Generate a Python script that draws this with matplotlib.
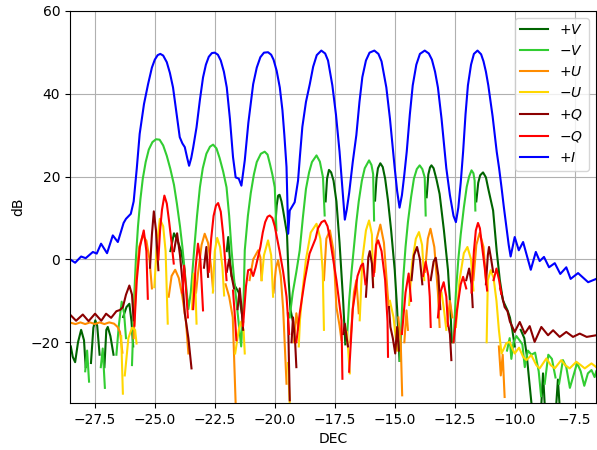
import numpy as np
import matplotlib.pyplot as plt

nan = np.nan

# +I : total intensity of the beam pattern
i_dec = [-28.5, -28.32, -28.07, -27.88, -27.58, -27.42, -27.24, -26.99, -26.75, -26.54, -26.3, -26.2, -26.0,
         -25.88, -25.75, -25.63, -25.45, -25.28, -25.12, -25.0, -24.88, -24.77, -24.65, -24.5, -24.37, -24.24,
         -24.1, -23.96, -23.85, -23.75, -23.65, -23.57, -23.48, -23.4, -23.26, -23.12, -22.99, -22.87, -22.75,
         -22.62, -22.5, -22.37, -22.25, -22.12, -22.0, -21.87, -21.74, -21.63, -21.5, -21.39, -21.25, -21.1,
         -20.9, -20.75, -20.6, -20.45, -20.28, -20.15, -20.05, -19.92, -19.79, -19.68, -19.6, -19.51, -19.44,
         -19.375, -19.17, -19.03, -18.95, -18.85, -18.7, -18.54, -18.4, -18.25, -18.06, -17.9, -17.78, -17.6,
         -17.45, -17.3, -17.18, -17.08, -17.0, -16.9, -16.75, -16.6, -16.47, -16.35, -16.2, -16.05, -15.85,
         -15.68, -15.55, -15.35, -15.2, -15.0, -14.9, -14.8, -14.7, -14.6, -14.5, -14.37, -14.25, -14.1, -13.95,
         -13.75, -13.58, -13.45, -13.32, -13.2, -13.05, -12.85, -12.7, -12.55, -12.45, -12.35, -12.25, -12.15,
         -12.05, -11.95, -11.82, -11.7, -11.55, -11.4, -11.3, -11.2, -11.1, -10.92, -10.75, -10.65, -10.55,
         -10.45, -10.35, -10.25, -10.17, -10.0, -9.83, -9.65, -9.33, -9.12, -8.96, -8.78, -8.57, -8.33, -8.1,
         -7.85, -7.67, -7.36, -6.94, -6.6]
i_db = [-0.1, -0.8, 0.7, 0.3, 1.8, 1.4, 3.8, 1.5, 5.8, 4.2, 8.8, 9.8, 11.0,
        14.0, 22.0, 30.3, 37.5, 42.3, 46.3, 48.2, 49.3, 49.6, 49.2, 47.6, 45.0, 41.5,
        35.5, 29.5, 28.0, 27.1, 24.5, 22.6, 24.5, 27.0, 31.9, 38.5, 43.9, 47.0, 48.9,
        49.8, 49.9, 49.4, 48.0, 45.3, 41.5, 34.0, 24.7, 19.8, 19.5, 17.8, 23.9, 33.0,
        42.3, 46.3, 48.8, 49.9, 50.0, 49.4, 48.2, 45.5, 41.5, 36.0, 30.0, 22.3, 6.2,
        11.8, 13.8, 19.0, 25.0, 32.0, 38.0, 42.3, 46.5, 49.3, 50.4, 49.7, 48.0, 42.0,
        35.0, 26.0, 17.0, 9.6, 12.0, 16.0, 23.5, 30.0, 38.0, 44.0, 48.0, 49.9, 50.4,
        49.6, 47.8, 41.5, 34.0, 22.0, 16.5, 12.5, 15.5, 20.5, 26.0, 35.0, 42.0, 47.0, 49.6,
        50.4, 49.7, 48.2, 45.3, 41.5, 34.0, 22.0, 15.5, 10.5, 9.0, 12.5, 18.5, 26.0,
        35.0, 42.0, 47.0, 49.6, 50.4, 49.5, 47.8, 45.3, 42.0, 34.5, 26.0, 22.0, 17.4,
        12.5, 8.0, 3.5, 0.7, 5.4, 2.2, 4.2, -2.5, 1.8, -0.4, 0.6, -1.9, -0.9, -3.5,
        -1.9, -4.7, -3.3, -5.5, -4.7]

# +V (positive Stokes V), nan where the sign flips
vp_dec = [-28.5, -28.42, -28.32, -28.2, -28.07, -27.95, -27.88, nan,
          -27.66, -27.56, -27.48, -27.4, -27.3, nan,
          -27.1, -27.02, -26.96, -26.85, -26.72, nan,
          -26.32, -26.18, -26.06, -25.97, -25.9, nan,
          -24.35, -24.2, -24.05, -23.9, -23.75, nan,
          -22.0, -21.94, -21.87, -21.8, -21.65, -21.5, -21.4, -21.32, nan,
          -19.98, -19.92, -19.86, -19.8, -19.72, -19.65, -19.49, -19.42, -19.35, -19.24, nan,
          -17.88, -17.82, -17.74, -17.65, -17.55, -17.43, -17.3, -17.15, -17.06, nan,
          -15.82, -15.76, -15.7, -15.6, -15.5, -15.4, -15.28, -15.15, -15.0, -14.9, -14.8, nan,
          -13.67, -13.6, -13.53, -13.47, -13.38, -13.26, -13.13, -12.95, -12.78, -12.68, -12.62, nan,
          -11.6, -11.52, -11.44, -11.32, -11.2, -11.1, -10.9, -10.75, -10.62, -10.49, -10.3, -10.2, -10.1,
          -10.0, nan,
          -9.75, -9.6, -9.5, -9.4, -9.28, nan,
          -8.9, -8.82, -8.74, nan,
          -8.28, -8.2, -8.12]
vp_db = [-21.0, -23.5, -24.8, -20.0, -17.0, -19.5, -26.0, nan,
         -25.0, -16.5, -14.7, -16.0, -23.0, nan,
         -26.0, -17.0, -16.3, -18.5, -23.0, nan,
         -13.9, -11.5, -10.7, -15.0, -21.0, nan,
         2.0, 6.3, 4.5, 2.0, -3.0, nan,
         2.0, 5.4, 0.0, -4.0, -6.5, -8.0, -12.0, -15.0, nan,
         8.0, 13.0, 15.4, 15.6, 14.0, 11.8, 6.2, -5.0, -12.0, -15.0, nan,
         14.0, 19.5, 21.6, 21.0, 19.0, 14.0, 4.0, -10.0, -20.5, nan,
         14.2, 19.5, 22.0, 23.2, 22.3, 19.5, 14.2, 7.0, -2.6, -12.0, -24.5, nan,
         15.0, 20.5, 22.2, 22.7, 22.0, 19.3, 15.8, 7.0, -2.6, -12.0, -20.0, nan,
         14.0, 18.5, 20.3, 21.0, 19.8, 17.0, 11.8, 2.0, -5.0, -9.9, -12.3, -14.0, -17.0,
         -21.0, nan,
         -17.0, -19.0, -23.0, -29.0, -36.0, nan,
         -36.0, -27.5, -36.0, nan,
         -36.0, -29.0, -36.0]

# -V
vm_dec = [-27.9, -27.82, -27.74, nan,
          -27.25, -27.17, -27.08, nan,
          -26.6, -26.5, -26.38, -26.28, -26.2, nan,
          -25.95, -25.85, -25.78, -25.7, -25.6, -25.5, -25.38, -25.25, -25.1, -24.95, -24.8, -24.65, -24.5,
          -24.35, -24.2, -24.08, -23.95, -23.85, -23.75, -23.6, -23.5, -23.42, -23.35, -23.24, -23.12, -23.0,
          -22.85, -22.7, -22.57, -22.43, -22.3, -22.15, -22.01, -21.9, -21.8, -21.7, -21.6, -21.4, -21.3,
          -21.25, -21.12, -21.0, -20.87, -20.75, -20.58, -20.42, -20.3, -20.2, -20.1, -20.0, -19.93, nan,
          -19.38, -19.25, -19.1, -18.96, -18.83, -18.7, -18.57, -18.45, -18.26, -18.12, -17.99, -17.92, nan,
          -17.0, -16.9, -16.8, -16.7, -16.6, -16.5, -16.37, -16.25, -16.07, -15.97, -15.9, -15.86, nan,
          -14.78, -14.65, -14.55, -14.45, -14.32, -14.2, -14.08, -13.96, -13.85, -13.75, -13.71, nan,
          -12.55, -12.45, -12.35, -12.25, -12.12, -12.0, -11.9, -11.8, -11.72, -11.67, -11.64, nan,
          -10.32, -10.21, -10.14, -10.05, -9.93, -9.8, -9.68, -9.58, -9.45, -9.3, -9.15, -9.0, -8.9, nan,
          -8.75, -8.6, -8.45, -8.3, nan,
          -8.15, -7.99, -7.85, -7.7, -7.55, -7.4, -7.25, -7.1, -6.95, -6.8, -6.67, -6.6]
vm_db = [-27.0, -22.0, -29.5, nan,
         -26.0, -21.5, -31.0, nan,
         -23.0, -16.0, -10.2, -13.0, -19.0, nan,
         -25.5, -8.0, 1.0, 8.0, 14.5, 19.5, 23.5, 26.5, 28.3, 29.0, 28.9, 27.5, 25.0,
         21.8, 18.0, 13.5, 8.0, 3.0, -3.0, -12.0, -8.0, -2.0, 3.0, 10.5, 17.4, 22.0,
         25.5, 27.2, 27.7, 26.8, 24.5, 21.2, 17.4, 10.5, 2.2, -4.5, -10.0, -21.0, -10.0,
         2.2, 10.5, 16.0, 20.5, 23.5, 25.5, 26.0, 25.3, 23.0, 20.5, 17.4, 7.0, nan,
         -14.0, -8.0, -3.0, 2.2, 10.0, 17.0, 21.0, 23.5, 25.1, 23.6, 19.8, 10.6, nan,
         -20.0, -10.0, -3.0, 3.0, 9.0, 14.0, 19.0, 22.0, 23.9, 22.8, 20.6, 9.4, nan,
         -24.5, -5.0, 3.0, 9.0, 15.0, 19.5, 21.8, 22.7, 21.8, 19.8, 10.6, nan,
         -20.0, -8.0, 0.0, 6.0, 12.5, 17.5, 20.0, 21.5, 20.8, 19.0, 11.8, nan,
         -22.0, -19.0, -24.0, -20.0, -18.5, -19.5, -20.5, -26.0, -22.0, -23.0, -22.5, -27.0, -33.0, nan,
         -30.0, -23.0, -24.0, -28.5, nan,
         -30.0, -24.3, -26.0, -31.0, -28.0, -25.0, -27.0, -30.5, -27.5, -26.7, -28.4, -27.0]

# +U
up_dec = [-28.5, -28.3, -28.1, -27.9, -27.7, -27.5, -27.3, -27.1, -26.9, -26.7, -26.55, -26.45, -26.35, nan,
          -25.88, -25.78, -25.65, -25.5, -25.35, -25.22, -25.12, nan,
          -24.42, -24.3, -24.15, -24.0, -23.85, -23.7, -23.6, nan,
          -23.28, -23.2, -23.05, -22.92, -22.78, -22.65, -22.57, nan,
          -22.05, -21.9, -21.75, -21.63, nan,
          -21.05, -20.9, -20.69, -20.6, -20.55, nan,
          -20.05, -19.95, -19.86, -19.75, -19.65, -19.51, nan,
          -19.2, -19.1, -19.0, nan,
          -17.95, -17.85, -17.7, -17.55, -17.43, -17.3, -17.22, nan,
          -16.85, -16.7, -16.6, -16.5, nan,
          -15.84, -15.75, -15.6, -15.45, -15.3, -15.25, nan,
          -14.85, -14.75, -14.69, nan,
          -14.6, -14.51, -14.45, nan,
          -13.74, -13.62, -13.51, -13.35, -13.2, -13.13, nan,
          -12.8, -12.7, -12.6, nan,
          -11.72, -11.6, -11.46, -11.3, -11.2, nan,
          -10.66, -10.58, -10.5, -10.42]
up_db = [-15.3, -15.6, -15.2, -15.6, -15.2, -15.6, -15.2, -15.6, -15.2, -15.5, -16.3, -17.5, -22.5, nan,
         -19.0, -5.0, 3.0, 5.8, 4.5, 0.0, -7.0, nan,
         -9.0, -4.0, -2.5, -4.5, -9.0, -15.0, -22.7, nan,
         -8.0, -3.4, 3.5, 6.2, 4.0, -2.0, -7.5, nan,
         -6.0, -9.0, -14.0, -34.8, nan,
         -5.0, 0.0, 2.2, 0.5, -5.0, nan,
         -8.0, -2.0, -0.2, -4.0, -12.0, -30.0, nan,
         -20.0, -13.0, -17.0, nan,
         -5.0, 5.0, 7.0, 2.0, -11.5, -16.0, -19.5, nan,
         -20.0, -8.0, -5.0, -13.0, nan,
         -3.0, 5.0, 8.4, 4.0, -8.0, -11.5, nan,
         -14.0, -20.0, -32.8, nan,
         -20.0, -12.3, -17.0, nan,
         -3.0, 5.0, 7.4, 3.0, -8.0, -16.3, nan,
         -15.0, -10.0, -14.0, nan,
         -5.0, 3.5, 6.4, 3.0, -5.0, nan,
         -21.0, -28.0, -23.0, -33.2]

# -U
um_dec = [-26.4, -26.33, nan,
          -26.25, -26.1, -25.95, -25.82, -25.76, nan,
          -25.02, -24.92, -24.79, -24.65, -24.55, -24.46, nan,
          -23.45, -23.38, -23.3, -23.26, nan,
          -22.58, -22.5, -22.4, -22.28, -22.18, -22.11, nan,
          -21.65, -21.5, -21.4, -21.3, -21.25, nan,
          -20.55, -20.45, -20.28, -20.15, -20.07, nan,
          -19.45, -19.375, nan,
          -19.0, -18.95, -18.85, -18.7, -18.5, -18.26, -18.1, -18.0, -17.95, nan,
          -17.1, -16.99, -16.875, nan,
          -16.46, -16.35, -16.2, -16.07, -15.95, -15.9, nan,
          -15.2, -15.05, -14.9, nan,
          -14.4, -14.28, -14.12, -13.99, -13.86, -13.77, nan,
          -13.05, -12.95, -12.85, nan,
          -12.45, -12.3, -12.12, -11.97, -11.82, -11.72, nan,
          -11.17, -11.12, -11.0, -10.88, -10.76, -10.66, -10.55, -10.45, -10.35, -10.21, -10.1, -10.0,
          -9.82, -9.65, -9.51, -9.31, -9.1, -8.96, -8.68, -8.5, -8.33, -8.06, -7.9, -7.71, -7.43, -7.25,
          -7.08, -6.8, -6.6]
um_db = [-18.5, -32.4, nan,
         -28.0, -19.0, -16.5, -17.0, -20.3, nan,
         -6.7, 3.0, 9.8, 8.0, 2.0, -15.5, nan,
         -12.0, -3.4, -8.0, -15.5, nan,
         -8.0, 2.0, 5.2, 3.0, -2.0, -8.7, nan,
         -22.7, -17.0, -15.0, -17.0, -22.7, nan,
         -5.0, 1.0, 4.6, 1.0, -9.0, nan,
         -25.0, -34.8, nan,
         -21.0, -14.7, -8.0, 0.0, 6.5, 8.6, 5.0, -3.0, -17.0, nan,
         -17.0, -17.5, -27.5, nan,
         -14.7, 0.0, 7.0, 9.4, 6.0, -6.0, nan,
         -10.0, -14.0, -22.0, nan,
         -11.0, -1.0, 5.0, 6.6, 3.5, -5.0, nan,
         -8.0, -12.0, -17.0, nan,
         -16.3, -5.0, 1.5, 3.0, 0.0, -7.5, nan,
         -20.0, -5.0, -2.6, -4.5, -10.0, -17.0, -22.7, -21.5, -20.2, -19.9, -21.5, -22.7,
         -21.3, -23.5, -24.3, -23.1, -25.5, -26.3, -23.9, -25.5, -26.3, -24.3, -25.5, -26.3, -24.7, -25.5,
         -26.3, -25.1, -26.0]

# +Q
qp_dec = [-28.5, -28.28, -28.0, -27.76, -27.49, -27.23, -27.03, -26.82, -26.6, -26.45, -26.33, -26.2, -26.06,
          -25.95, -25.88, nan,
          -25.2, -25.12, -25.04, -24.95, -24.85, nan,
          -24.2, -24.07, -23.95, -23.85, -23.75, -23.6, -23.47, nan,
          -22.95, -22.85, -22.78, nan,
          -22.0, -21.9, -21.8, -21.7, nan,
          -21.55, -21.46, -21.38, -21.32, nan,
          -19.45, -19.375, nan,
          -19.3, -19.24, -19.15, -19.1, nan,
          -17.15, -17.08, -17.0, -16.95, nan,
          -16.2, -16.1, -16.04, -15.95, -15.9, nan,
          -15.24, -15.18, -15.08, -14.98, -14.9, -14.83, nan,
          -14.3, -14.2, -14.07, -13.95, -13.85, nan,
          -13.5, -13.38, -13.29, -13.18, -13.1, nan,
          -12.78, -12.7, -12.64, nan,
          -12.02, -11.9, -11.8, -11.75, nan,
          -11.2, -11.12, -11.07, -10.98, -10.9, nan,
          -10.6, -10.5, -10.42, -10.3, -10.2, -10.0, -9.79, -9.58, -9.375, -9.17, -8.89, -8.61, -8.4,
          -8.125, -7.85, -7.57, -7.29, -7.0, -6.6]
qp_db = [-13.5, -14.8, -13.3, -14.9, -13.1, -14.8, -13.1, -14.1, -12.5, -12.2, -11.5, -8.5, -6.3,
         -8.5, -14.7, nan,
         -2.0, 6.0, 11.6, 7.0, -2.6, nan,
         2.0, 6.3, 1.0, -5.0, -13.0, -19.0, -26.3, nan,
         -2.0, 3.0, -4.2, nan,
         -3.0, 0.0, -4.0, -7.0, nan,
         -12.0, -7.0, -12.0, -17.0, nan,
         -13.0, -34.0, nan,
         -20.0, -14.0, -20.0, -26.0, nan,
         -18.0, -15.5, -19.0, -21.0, nan,
         -9.0, 0.5, 2.0, -1.0, -6.7, nan,
         -11.5, -16.3, -19.0, -22.7, -16.3, -22.0, nan,
         -5.0, 1.0, 3.0, 0.0, -6.0, nan,
         -5.0, -0.5, 0.4, -4.0, -12.0, nan,
         -15.5, -18.0, -24.3, nan,
         -5.0, -2.2, -6.0, -11.5, nan,
         -6.0, 1.0, 3.0, 0.0, -3.0, nan,
         -7.0, -9.5, -11.5, -12.5, -15.0, -17.5, -15.1, -17.9, -16.1, -19.9, -16.3, -18.3, -17.1,
         -18.7, -17.5, -18.7, -17.9, -18.7, -18.3]

# -Q
qm_dec = [-25.85, -25.75, -25.62, -25.46, -25.35, -25.29, nan,
          -24.85, -24.78, -24.7, -24.6, -24.5, -24.4, -24.3, -24.21, nan,
          -23.85, -23.78, -23.7, -23.62, nan,
          -23.4, -23.3, -23.2, -23.1, -22.99, nan,
          -22.75, -22.65, -22.55, -22.45, -22.36, -22.25, -22.15, -22.01, nan,
          -21.74, -21.65, -21.6, nan,
          -21.32, -21.2, -21.11, -21.0, -20.9, -20.8, -20.6, -20.5, -20.4, -20.3, -20.21, -20.1, -20.0,
          -19.8, -19.65, -19.51, -19.4, nan,
          -19.1, -18.96, -18.75, -18.55, -18.3, -18.2, -18.05, -17.92, -17.8, -17.7, -17.43, -17.22,
          -17.18, nan,
          -16.9, -16.75, -16.55, -16.4, -16.32, -16.22, nan,
          -15.88, -15.78, -15.69, -15.55, -15.4, -15.3, -15.28, nan,
          -14.7, -14.55, -14.42, -14.32, nan,
          -13.82, -13.71, -13.6, -13.54, -13.5, nan,
          -13.2, -13.1, -12.96, -12.85, -12.78, nan,
          -12.55, -12.4, -12.25, -12.15, -12.02, nan,
          -11.8, -11.7, -11.62, -11.53, -11.45, -11.4, -11.25, -11.15, nan,
          -10.88, -10.76, -10.65, -10.56]
qm_db = [-16.0, -5.0, 3.0, 7.0, 2.0, -9.5, nan,
         0.0, 7.0, 12.0, 15.4, 13.5, 9.0, 4.0, -1.0, nan,
         -8.0, -1.5, -7.0, -14.0, nan,
         -12.0, -2.0, 3.8, 0.0, -12.3, nan,
         -3.0, 5.0, 10.5, 13.0, 13.6, 11.5, 6.0, -5.0, nan,
         -7.5, -14.7, -19.5, nan,
         -16.0, -6.5, -2.6, -2.4, -4.0, -2.0, 3.0, 6.5, 9.0, 10.3, 10.6, 10.0, 8.0,
         2.0, -3.0, -9.0, -18.0, nan,
         -20.0, -13.0, -5.0, 1.4, 5.0, 7.5, 9.0, 9.4, 8.0, 5.0, -5.0, -14.7,
         -28.8, nan,
         -27.1, -12.0, -4.0, -1.5, -1.0, -6.0, nan,
         -4.0, 3.5, 4.6, 2.0, -5.0, -15.0, -23.5, nan,
         -18.0, -8.0, -3.4, -10.0, nan,
         -4.0, -0.6, -4.0, -9.0, -16.3, nan,
         -14.0, -8.0, -5.5, -9.0, -16.0, nan,
         -20.0, -12.0, -6.0, -4.2, -7.0, nan,
         -8.0, 2.0, 7.0, 8.8, 7.5, 5.0, -2.0, -7.5, nan,
         -5.0, -2.2, -5.0, -8.3]

fig, ax = plt.subplots(figsize=(5.97, 4.5), dpi=100)
fig.subplots_adjust(left=0.117, right=0.998, bottom=0.104, top=0.976)

ax.plot(vp_dec, vp_db, color='darkgreen', label='$+V$')
ax.plot(vm_dec, vm_db, color='limegreen', label='$-V$')
ax.plot(up_dec, up_db, color='darkorange', label='$+U$')
ax.plot(um_dec, um_db, color='gold', label='$-U$')
ax.plot(qp_dec, qp_db, color='darkred', label='$+Q$')
ax.plot(qm_dec, qm_db, color='red', label='$-Q$')
ax.plot(i_dec, i_db, color='blue', label='$+I$')

ax.set_xlim(-28.54, -6.62)
ax.set_ylim(-34.7, 60)
ax.set_xlabel('DEC')
ax.set_ylabel('dB')
ax.grid(True)
ax.legend(loc='upper right')

plt.savefig('out.png')
